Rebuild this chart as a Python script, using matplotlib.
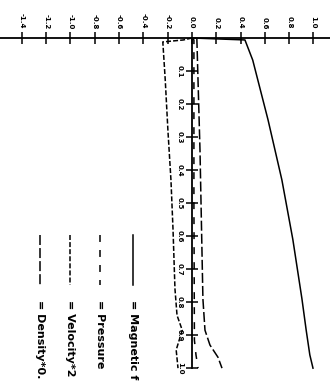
import numpy as np
import matplotlib.pyplot as plt

plt.rcParams['lines.scale_dashes'] = False

# tick values
xticks = [-1.4, -1.2, -1.0, -0.8, -0.6, -0.4, -0.2, 0.0, 0.2, 0.4, 0.6, 0.8, 1.0]
yticks = [0.1, 0.2, 0.3, 0.4, 0.5, 0.6, 0.7, 0.8, 0.9, 1.0]

# curves (position along the run, value)
mag_pos = [0, 0.006, 0.067, 0.248, 0.43, 0.61, 0.79, 0.885, 0.96, 1.0]
mag_val = [0, 0.436, 0.50, 0.626, 0.74, 0.83, 0.905, 0.94, 0.97, 0.996]

pres_pos = [0, 0.006, 0.5, 0.915, 0.96, 1.0]
pres_val = [0, 0.016, 0.016, 0.02, 0.033, 0.05]

vel_pos = [0, 0.006, 0.012, 0.127, 0.28, 0.43, 0.58, 0.76, 0.84, 0.885, 0.945, 1.0]
vel_val = [0, -0.07, -0.24, -0.22, -0.198, -0.173, -0.156, -0.14, -0.123, -0.08, -0.13, -0.115]

dens_pos = [0, 0.34, 0.79, 0.885, 0.93, 0.967, 1.0]
dens_val = [0.04, 0.066, 0.09, 0.107, 0.148, 0.214, 0.247]

# legend texts as far as they show on the page
names = ['Magnetic f', 'Pressure', 'Velocity*2', 'Density*0.']

W, H = 330, 383
fig = plt.figure(figsize=(3.3, 3.83), dpi=100)
ax = fig.add_axes([0, 0, 1, 1])
ax.set_xlim(-1.580, 1.136)
ax.set_ylim(1.045, -0.115)

lw = 1.1
styles = [(None), (5, 5.8), (3.6, 1.5), (7.2, 2.2)]
curves = [(mag_pos, mag_val), (pres_pos, pres_val), (vel_pos, vel_val), (dens_pos, dens_val)]
for (p, v), st in zip(curves, styles):
  line, = ax.plot(v, p, color='black', lw=lw)
  if st is not None:
    line.set_dashes(st)

# axes through origin
for s in ['bottom', 'right']:
  ax.spines[s].set_visible(False)
ax.spines['top'].set_position(('data', 0))
ax.spines['left'].set_position(('data', 0))
ax.spines['left'].set_bounds(0, 1.0)
ax.spines['top'].set_linewidth(1.3)
ax.spines['left'].set_linewidth(1.3)
ax.xaxis.tick_top()
ax.set_xticks(xticks)
ax.set_xticklabels(['%.1f' % t for t in xticks], rotation=270, fontsize=5, fontweight='bold')
ax.set_yticks(yticks)
ax.set_yticklabels(['%.1f' % t for t in yticks], rotation=270, fontsize=5, fontweight='bold', va='center')
ax.tick_params(axis='both', direction='inout', length=9, width=1.1, pad=2)

# legend drawn by hand, rotated like the plot
leg_x = [133, 100, 70, 40]
for i, name in enumerate(names):
  xf = leg_x[i] / W
  line, = ax.plot([xf, xf], [1 - 235 / H, 1 - 285 / H], color='black', lw=lw,
                  transform=fig.transFigure, clip_on=False)
  if styles[i] is not None:
    line.set_dashes(styles[i])
  fig.text(xf, 1 - 300 / H, '= ' + name, rotation=270, ha='center', va='top',
           fontsize=8, fontweight='bold')

fig.savefig('out.png', dpi=100)
